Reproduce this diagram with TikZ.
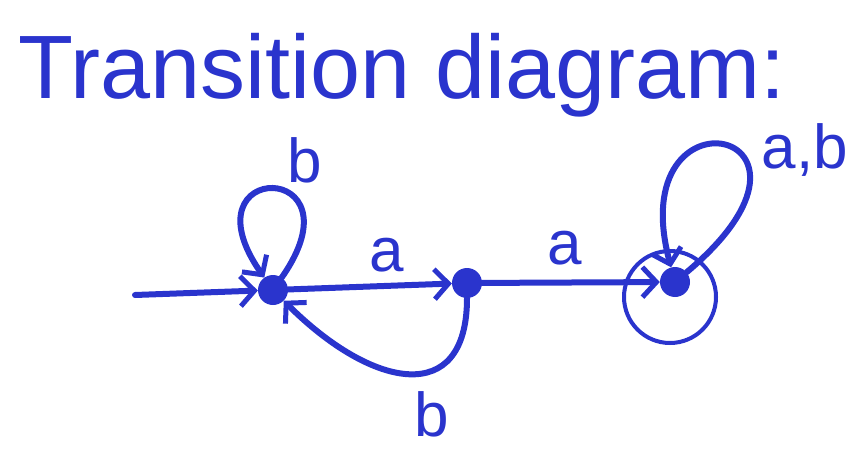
\documentclass[tikz,border=0pt]{standalone}
\usepackage{fontspec}
\setmainfont{Liberation Sans}
\usepackage{tikz}
\usetikzlibrary{positioning,calc}
\usetikzlibrary{arrows.meta}
\definecolor{InkBlue}{RGB}{42,52,205}
\tikzset{
  st/.style={circle,fill=InkBlue,inner sep=0pt,minimum size=30pt},
  edge/.style={draw=InkBlue,line width=6pt,line cap=round,
    -{Straight Barb[length=14pt,width=30pt,line width=5pt]}},
  lab/.style={text=InkBlue,font=\fontsize{62}{62}\selectfont,inner sep=0pt},
}
\tikzset{ring/.style={circle,draw=InkBlue,line width=4pt,minimum size=92pt}}
\begin{document}
\begin{tikzpicture}[x=1pt,y=1pt]
\useasboundingbox (0,0) rectangle (861,448);
\node[text=InkBlue,font=\fontsize{90}{90}\selectfont,inner sep=0pt] (title) at (402,373) {Transition diagram:};
\coordinate (start) at (135,153);
\node[st] (q0) at (273,158) {};
\node[st] (q1) at (467,165) {};
\node[st] (q2) at (675,166) {};
\node[ring] (acc) at (670,151) {};
\draw[edge] (start) -- (q0);
\draw[edge] (q0) .. controls +(55:160) and +(125:160) .. (q0);
\draw[edge] (q0) -- (q1);
\draw[edge] (q1) -- (q2);
\draw[edge] (q1) .. controls +(-90:125) and +(-45:140) .. (q0);
\draw[edge] (q2) .. controls +(40:240) and +(105:210) .. (q2);
\node[lab] (lb0) at (305,288) {b};
\node[lab] (la0) at (387,193) {a};
\node[lab] (la1) at (565,200) {a};
\node[lab] (lab2) at (805,298) {a,b};
\node[lab] (lb1) at (432,34) {b};
\end{tikzpicture}
\end{document}
